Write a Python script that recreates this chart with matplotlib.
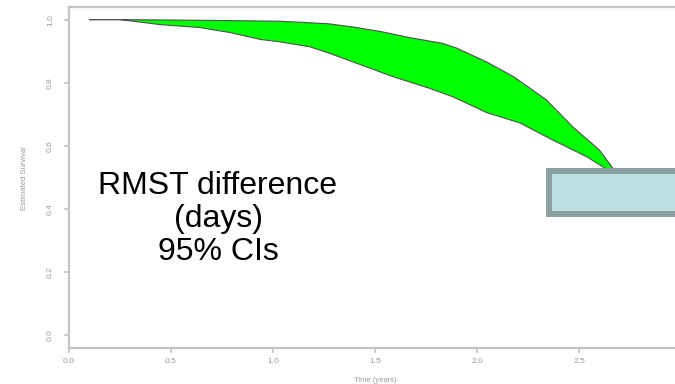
import matplotlib
matplotlib.use("Agg")
import matplotlib.pyplot as plt
from matplotlib.patches import Rectangle

# Data
upper_t = [0.10, 0.25, 0.64, 1.03, 1.27, 1.40, 1.53, 1.67, 1.83, 1.90, 2.05, 2.18, 2.34, 2.47, 2.60, 2.68]
upper_s = [1.000, 1.000, 0.998, 0.995, 0.987, 0.976, 0.962, 0.943, 0.925, 0.910, 0.865, 0.819, 0.746, 0.660, 0.587, 0.517]
lower_t = [0.10, 0.25, 0.45, 0.64, 0.79, 0.94, 1.03, 1.18, 1.27, 1.43, 1.59, 1.76, 1.88, 2.05, 2.21, 2.37, 2.54, 2.68]
lower_s = [1.000, 1.000, 0.984, 0.975, 0.959, 0.937, 0.930, 0.914, 0.895, 0.857, 0.819, 0.784, 0.756, 0.705, 0.673, 0.619, 0.565, 0.508]

x_ticks = [0.0, 0.5, 1.0, 1.5, 2.0, 2.5, 3.0]
y_ticks = [0.0, 0.2, 0.4, 0.6, 0.8, 1.0]

W, H = 675, 384
fig = plt.figure(figsize=(W / 100, H / 100), dpi=100)
plt.rcParams['font.family'] = ['Liberation Sans', 'DejaVu Sans']

# axes: x 0 -> px 69, 3.0 -> px 681 ; y -0.04 -> px 348, 1.04 -> px 7
ax = fig.add_axes([69 / W, (H - 348) / H, 612 / W, (348 - 7) / H])
ax.set_xlim(0, 3.0)
ax.set_ylim(-0.04, 1.04)

poly_t = upper_t + lower_t[::-1]
poly_s = upper_s + lower_s[::-1]
ax.fill(poly_t, poly_s, facecolor='#00ff00', edgecolor='#505050', linewidth=0.8, zorder=3)

gray = '#c4c4c4'
for sp in ['left', 'bottom', 'top', 'right']:
    ax.spines[sp].set_color(gray)
    ax.spines[sp].set_linewidth(1.6)

ax.set_xticks(x_ticks)
ax.set_xticklabels([f"{v:.1f}" for v in x_ticks])
ax.set_yticks(y_ticks)
ax.set_yticklabels([f"{v:.1f}" for v in y_ticks], rotation=90, va='center')
ax.tick_params(axis='both', direction='out', length=3.8, width=1.2, color=gray,
               labelcolor='#9a9a9a', labelsize=6)
ax.tick_params(axis='x', pad=3.5)
ax.tick_params(axis='y', pad=7)

fig.text(375 / W, 1 - 380 / H, "Time (years)", fontsize=5.5,
         color='#9a9a9a', ha='center', va='center')
fig.text(25 / W, 1 - 178 / H, "Estimated Survival", rotation=90, fontsize=5.5,
         color='#9a9a9a', ha='center', va='center')

fig.text(218 / W, 1 - 219 / H, "RMST difference\n(days)\n95% CIs", fontsize=23,
         color='black', ha='center', va='center', linespacing=1.13)

rect = Rectangle((549 / W, 1 - 214 / H), (690 - 549) / W, (214 - 171) / H,
                 transform=fig.transFigure, facecolor='#bce0e3', edgecolor='#8aa0a2',
                 linewidth=4.3, zorder=10)
fig.add_artist(rect)

fig.savefig("out.png", dpi=100)
